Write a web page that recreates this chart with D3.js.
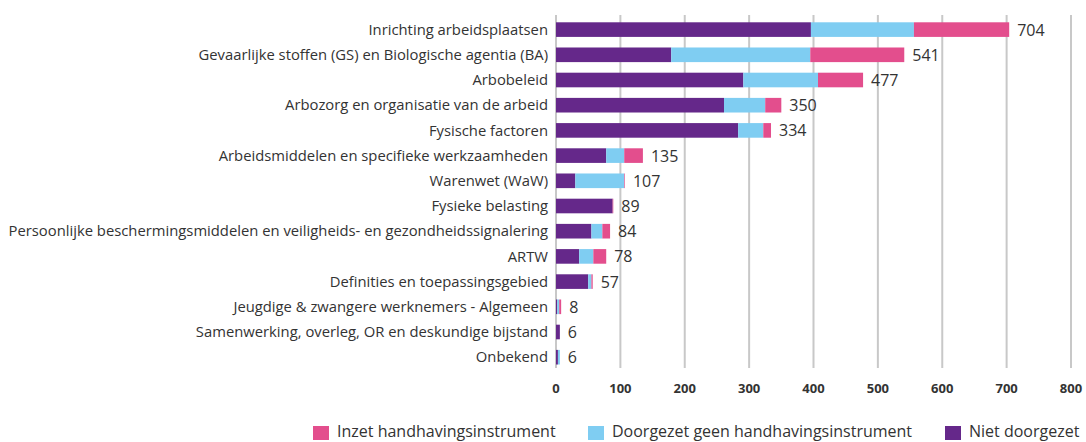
<!DOCTYPE html>
<html>
<head>
<meta charset="utf-8">
<script src="https://cdn.jsdelivr.net/npm/d3@7"></script>
<style>
  body { margin: 0; background: #fff; }
  svg text { font-family: "Open Sans", "Noto Sans", sans-serif; fill: #333; }
</style>
</head>
<body>
<svg id="chart" width="1086" height="442"></svg>
<script>
// categories, top to bottom
const categories = [
  'Inrichting arbeidsplaatsen',
  'Gevaarlijke stoffen (GS) en Biologische agentia (BA)',
  'Arbobeleid',
  'Arbozorg en organisatie van de arbeid',
  'Fysische factoren',
  'Arbeidsmiddelen en specifieke werkzaamheden',
  'Warenwet (WaW)',
  'Fysieke belasting',
  'Persoonlijke beschermingsmiddelen en veiligheids- en gezondheidssignalering',
  'ARTW',
  'Definities en toepassingsgebied',
  'Jeugdige & zwangere werknemers - Algemeen',
  'Samenwerking, overleg, OR en deskundige bijstand',
  'Onbekend'
];
// series
const nietDoorgezet = [396, 179, 291, 261, 283, 78, 30, 88, 55, 36, 50, 2, 6, 3];
const doorgezetGeen = [160, 216, 116, 64, 39, 28, 76, 0, 17, 22, 5, 3, 0, 3];
const inzet        = [148, 146, 70, 25, 12, 29, 1, 1, 12, 20, 2, 3, 0, 0];
const totals       = [704, 541, 477, 350, 334, 135, 107, 89, 84, 78, 57, 8, 6, 6];
const xTicks = [0, 100, 200, 300, 400, 500, 600, 700, 800];

const seriesKeys = ['niet', 'geen', 'inzet'];
const colors = { niet: '#65288a', geen: '#7fcdf2', inzet: '#e34e8d' };
const legendItems = [
  { key: 'inzet', label: 'Inzet handhavingsinstrument' },
  { key: 'geen', label: 'Doorgezet geen handhavingsinstrument' },
  { key: 'niet', label: 'Niet doorgezet' }
];

const data = categories.map((c, i) => ({
  category: c, niet: nietDoorgezet[i], geen: doorgezetGeen[i], inzet: inzet[i], total: totals[i]
}));

const svg = d3.select('#chart');
const margin = { left: 556, right: 15, top: 17, bottom: 75 };

const x = d3.scaleLinear().domain([0, 800]).range([margin.left, margin.left + 515]);
const y = d3.scaleBand().domain(categories).range([margin.top, margin.top + 14 * 25.2]).paddingInner(0.42).paddingOuter(0.21);

// gridlines
svg.append('g').selectAll('line')
  .data(xTicks)
  .join('line')
    .attr('x1', d => x(d)).attr('x2', d => x(d))
    .attr('y1', 15).attr('y2', 368)
    .attr('stroke', '#c8c8c8')
    .attr('stroke-width', 2);

// stacked bars
const stack = d3.stack().keys(seriesKeys)(data);
svg.append('g').selectAll('g')
  .data(stack)
  .join('g')
    .attr('fill', d => colors[d.key])
  .selectAll('rect')
  .data(d => d)
  .join('rect')
    .attr('x', d => x(d[0]))
    .attr('y', d => y(d.data.category))
    .attr('width', d => x(d[1]) - x(d[0]))
    .attr('height', y.bandwidth());

// category labels
svg.append('g').selectAll('text')
  .data(categories)
  .join('text')
    .attr('x', margin.left - 8)
    .attr('y', d => y(d) + y.bandwidth() / 2)
    .attr('dy', '0.35em')
    .attr('text-anchor', 'end')
    .attr('font-size', 14.8)
    .text(d => d);

// totals
svg.append('g').selectAll('text')
  .data(data)
  .join('text')
    .attr('x', d => x(d.niet + d.geen + d.inzet) + 8)
    .attr('y', d => y(d.category) + y.bandwidth() / 2)
    .attr('dy', '0.38em')
    .attr('font-size', 16)
    .text(d => d.total);

// x axis labels
svg.append('g').selectAll('text')
  .data(xTicks)
  .join('text')
    .attr('x', d => x(d))
    .attr('y', 393)
    .attr('text-anchor', 'middle')
    .attr('font-size', 13)
    .attr('font-weight', 'bold')
    .text(d => d);

// legend
const legendX = [313, 588, 945];
const legend = svg.append('g').selectAll('g')
  .data(legendItems)
  .join('g')
    .attr('transform', (d, i) => `translate(${legendX[i]},0)`);
legend.append('rect')
  .attr('y', 426).attr('width', 16).attr('height', 14)
  .attr('fill', d => colors[d.key]);
legend.append('text')
  .attr('x', 24).attr('y', 437)
  .attr('font-size', 16)
  .text(d => d.label);
</script>
</body>
</html>
